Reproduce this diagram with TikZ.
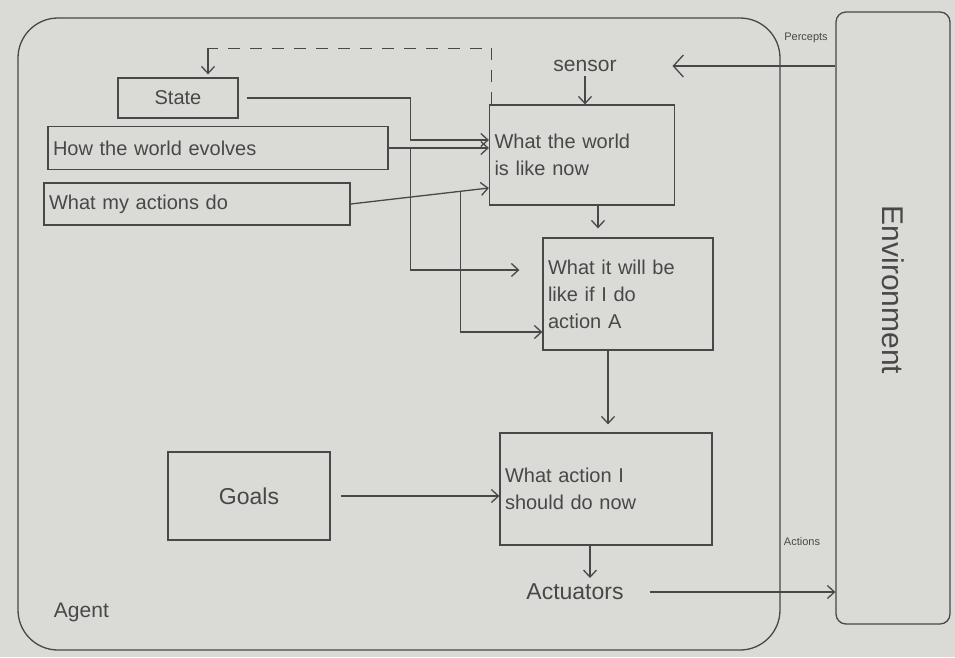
\documentclass[tikz,border=0pt]{standalone}
\usepackage{fontspec}
\setmainfont{Liberation Sans}
\usetikzlibrary{arrows.meta}
\definecolor{paper}{RGB}{218,218,215}
\definecolor{pencil}{RGB}{72,72,72}
\begin{document}
\begin{tikzpicture}[x=1pt,y=-1pt,
  line width=1.3pt, draw=pencil, text=pencil,
  every node/.style={text=pencil},
  box/.style={draw=pencil, line width=1.3pt, inner sep=4pt, align=left},
  boxfont/.style={font=\fontsize{20}{27}\selectfont},
  arr/.style={draw=pencil, -{Straight Barb[length=7pt,width=13pt,line width=1.3pt]}},
  big arr/.style={draw=pencil, -{Straight Barb[length=10pt,width=22pt,line width=1.3pt]}},
  label/.style={font=\fontsize{21}{25}\selectfont},
  tiny/.style={font=\fontsize{11}{13}\selectfont}]
  % paper
  \fill[paper] (0,0) rectangle (955,657);
  \useasboundingbox (0,0) rectangle (955,657);

  % agent and environment frames
  \node[draw=pencil, line width=1.3pt, rounded corners=40pt,
        minimum width=762pt, minimum height=632pt] (agent) at (399,334) {};
  \node[draw=pencil, line width=1.3pt, rounded corners=10pt,
        minimum width=114pt, minimum height=612pt] (env) at (893,318) {};
  \node[rotate=-90, font=\fontsize{30}{34}\selectfont] (envtext) at (893,290) {Environment};
  \node[label, anchor=south west] (agenttext) at (50,626) {Agent};

  % knowledge boxes
  \node[box, boxfont, minimum width=120pt, minimum height=40pt] (state) at (178,98) {State};
  \node[box, boxfont, minimum width=340pt, minimum height=43pt, text width=330pt] (evolves) at (218,148) {How the world evolves};
  \node[box, boxfont, minimum width=306pt, minimum height=42pt, text width=296pt] (actions) at (197,204) {What my actions do};

  % reasoning boxes
  \node[box, boxfont, minimum width=185pt, minimum height=100pt, text width=175pt] (world) at (582,155) {What the world\\is like now};
  \node[box, boxfont, minimum width=170pt, minimum height=112pt, text width=160pt] (predict) at (628,294) {What it will be\\like if I do\\action A};
  \node[box, boxfont, minimum width=212pt, minimum height=112pt, text width=202pt] (decide) at (606,489) {What action I\\should do now};
  \node[box, font=\fontsize{23}{27}\selectfont, minimum width=162pt, minimum height=88pt] (goals) at (249,496) {Goals};

  % sensing and acting
  \node[label] (sensor) at (585,66) {sensor};
  \node[font=\fontsize{23}{27}\selectfont] (actuators) at (575,592) {Actuators};
  \node[tiny] (percepts) at (806,38) {Percepts};
  \node[tiny] (actionslbl) at (802,542) {Actions};

  % percepts coming in, actions going out
  \draw[big arr, shorten >=52pt] (env.west |- sensor) -- (sensor.east);
  \draw[arr, shorten <=22pt] (actuators.east) -- (actuators.east -| env.west);

  % internal flow
  \draw[arr] (sensor.south) -- (sensor.south |- world.north);
  \draw[arr, shorten >=9pt] ([xshift=16pt]world.south) -- ([xshift=16pt]world.south |- predict.north);
  \draw[arr, shorten >=8pt] ([xshift=-20pt]predict.south) -- ([xshift=-20pt]predict.south |- decide.north);
  \draw[arr, shorten <=10pt] (goals.east) -- (goals.east -| decide.west);
  \draw[arr, shorten >=2pt] ([xshift=-16pt]decide.south) -- ([xshift=-16pt]decide.south |- actuators.north);

  % state memory loop
  \draw[dashed, dash pattern=on 12pt off 10pt, line width=1.1pt]
    ([xshift=3pt]world.north west) |- ([xshift=30pt,yshift=29pt]state.north);
  \draw[arr] ([xshift=30pt,yshift=29pt]state.north) -- ([xshift=30pt,yshift=3pt]state.north);

  % knowledge feeding the world model
  \draw[arr, shorten <=8pt] (state.east) -- ++(172,0) |- ([yshift=15pt]world.west);
  \draw[arr] (evolves.east) -- (evolves.east -| world.west);
  \draw[arr] (actions.east) -- ([yshift=-33pt]world.west);

  % knowledge feeding the prediction
  \draw[arr] ([xshift=22pt]evolves.east) |- ([xshift=-23pt,yshift=24pt]predict.west);
  \draw[arr] ([xshift=110pt,yshift=12.6pt]actions.east) |- ([yshift=-38pt]predict.west);
\end{tikzpicture}
\end{document}
